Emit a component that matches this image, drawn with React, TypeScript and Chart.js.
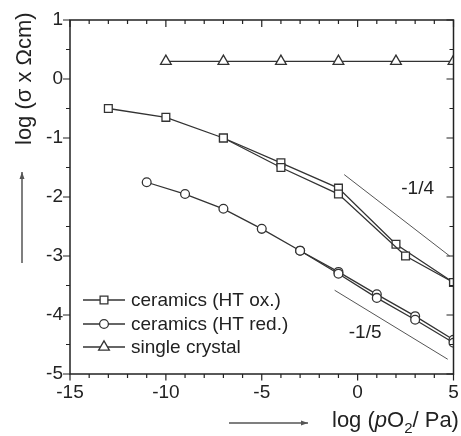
import React, { useEffect, useRef } from 'react';
import { Chart, registerables } from 'chart.js';
Chart.register(...registerables);

// ---- data ----
const oxA_x = [-13, -10, -7, -4, -1, 2, 5];
const oxA_y = [-0.5, -0.65, -1.0, -1.42, -1.85, -2.8, -3.45];
const oxB_x = [-7, -4, -1, 2.5, 5];
const oxB_y = [-1.0, -1.5, -1.95, -3.0, -3.45];
const redA_x = [-11, -9, -7, -5, -3, -1, 1, 3, 5];
const redA_y = [-1.75, -1.95, -2.2, -2.54, -2.91, -3.27, -3.65, -4.02, -4.42];
const redB_x = [-3, -1, 1, 3, 5];
const redB_y = [-2.91, -3.3, -3.71, -4.08, -4.47];
const crystal_x = [-10, -7, -4, -1, 2, 5];
const crystal_y = [0.3, 0.3, 0.3, 0.3, 0.3, 0.3];
const slope14_x = [-0.7, 4.8];
const slope14_y = [-1.62, -3.0];
const slope15_x = [-1.2, 4.7];
const slope15_y = [-3.58, -4.75];
const slopeLabels = ['-1/4', '-1/5'];
const slopeLabel_x = [3.13, 0.39];
const slopeLabel_y = [-1.86, -4.3];
const legendLabels = ['ceramics (HT ox.)', 'ceramics (HT red.)', 'single crystal'];
const legendStyles = ['rect', 'circle', 'triangle'];

const X_MIN = -15, X_MAX = 5, X_MAJOR = 5, X_MINOR = 1;
const Y_MIN = -5, Y_MAX = 1, Y_MAJOR = 1, Y_MINOR = 0.5;

const FONT = 'Arial, "Liberation Sans", sans-serif';
const INK = '#333';

const pts = (xs: number[], ys: number[]) => xs.map((x, i) => ({ x, y: ys[i] }));

function marker(ctx: CanvasRenderingContext2D, style: string, x: number, y: number) {
  ctx.beginPath();
  if (style === 'rect') {
    const s = 5.5 * Math.SQRT1_2;
    ctx.rect(x - s, y - s, 2 * s, 2 * s);
  } else if (style === 'circle') {
    ctx.arc(x, y, 4.4, 0, Math.PI * 2);
  } else {
    const r = 6.2;
    let a = 0;
    ctx.moveTo(x + Math.sin(a) * r, y - Math.cos(a) * r);
    a += (2 * Math.PI) / 3;
    ctx.lineTo(x + Math.sin(a) * r, y - Math.cos(a) * r);
    a += (2 * Math.PI) / 3;
    ctx.lineTo(x + Math.sin(a) * r, y - Math.cos(a) * r);
    ctx.closePath();
  }
  ctx.fillStyle = '#fff';
  ctx.fill();
  ctx.stroke();
}

function arrow(ctx: CanvasRenderingContext2D, x1: number, y1: number, x2: number, y2: number) {
  ctx.beginPath();
  ctx.moveTo(x1, y1);
  ctx.lineTo(x2, y2);
  ctx.stroke();
  const ang = Math.atan2(y2 - y1, x2 - x1);
  const L = 7, W = 2.5;
  ctx.beginPath();
  ctx.moveTo(x2, y2);
  ctx.lineTo(x2 - L * Math.cos(ang) + W * Math.sin(ang), y2 - L * Math.sin(ang) - W * Math.cos(ang));
  ctx.lineTo(x2 - L * Math.cos(ang) - W * Math.sin(ang), y2 - L * Math.sin(ang) + W * Math.cos(ang));
  ctx.closePath();
  ctx.fill();
}

const decorPlugin = {
  id: 'decor',
  afterDraw(chart: any) {
    const { ctx, chartArea: a, scales } = chart;
    const x = scales.x, y = scales.y;
    ctx.save();
    // frame
    ctx.strokeStyle = '#222';
    ctx.lineWidth = 1.5;
    ctx.strokeRect(a.left, a.top, a.right - a.left, a.bottom - a.top);
    // ticks
    ctx.lineWidth = 1.2;
    ctx.beginPath();
    for (let v = X_MIN; v <= X_MAX + 1e-9; v += X_MINOR) {
      const major = Math.abs(v % X_MAJOR) < 1e-9;
      const px = x.getPixelForValue(v);
      const lb = major ? 6.5 : 4;
      const lt = major ? 7 : 4;
      ctx.moveTo(px, a.bottom);
      ctx.lineTo(px, a.bottom + lb);
      ctx.moveTo(px, a.top);
      ctx.lineTo(px, a.top + lt);
    }
    for (let v = Y_MIN; v <= Y_MAX + 1e-9; v += Y_MINOR) {
      const major = Math.abs(v % Y_MAJOR) < 1e-9;
      const py = y.getPixelForValue(v);
      const l = major ? 7 : 4;
      ctx.moveTo(a.left, py);
      ctx.lineTo(a.left - l, py);
      ctx.moveTo(a.right, py);
      ctx.lineTo(a.right - l, py);
    }
    ctx.stroke();

    // slope labels
    ctx.fillStyle = '#222';
    ctx.font = `19px ${FONT}`;
    ctx.textAlign = 'center';
    ctx.textBaseline = 'middle';
    slopeLabels.forEach((t, i) => {
      ctx.fillText(t, x.getPixelForValue(slopeLabel_x[i]), y.getPixelForValue(slopeLabel_y[i]));
    });

    // legend
    const lx0 = a.left + 13, lx1 = a.left + 55, mx = a.left + 34, tx = a.left + 61;
    const rowY = [300, 324, 347];
    ctx.textAlign = 'left';
    legendLabels.forEach((t, i) => {
      ctx.strokeStyle = INK;
      ctx.lineWidth = 1.3;
      ctx.beginPath();
      ctx.moveTo(lx0, rowY[i]);
      ctx.lineTo(lx1, rowY[i]);
      ctx.stroke();
      marker(ctx, legendStyles[i], mx, rowY[i]);
      ctx.fillStyle = '#222';
      ctx.fillText(t, tx, rowY[i] + 1);
    });

    // y title
    ctx.save();
    ctx.translate(31, 145);
    ctx.rotate(-Math.PI / 2);
    ctx.textAlign = 'left';
    ctx.textBaseline = 'alphabetic';
    ctx.font = `22px ${FONT}`;
    ctx.fillStyle = '#222';
    ctx.fillText('log (σ x Ωcm)', 0, 0);
    ctx.restore();

    // x title with italic p and subscript 2
    ctx.textAlign = 'left';
    ctx.textBaseline = 'alphabetic';
    ctx.fillStyle = '#222';
    let cx = 332;
    const by = 427;
    const seg = (t: string, font: string, dy = 0) => {
      ctx.font = font;
      ctx.fillText(t, cx, by + dy);
      cx += ctx.measureText(t).width;
    };
    seg('log (', `22px ${FONT}`);
    seg('p', `italic 22px ${FONT}`);
    seg('O', `22px ${FONT}`);
    seg('2', `15px ${FONT}`, 6);
    seg('/ Pa)', `22px ${FONT}`);

    // arrows
    ctx.strokeStyle = '#555';
    ctx.fillStyle = '#555';
    ctx.lineWidth = 1.5;
    arrow(ctx, 22, 263, 22, 172);
    arrow(ctx, 229, 423, 308, 423);
    ctx.restore();
  },
};

export default function App() {
  const ref = useRef<HTMLCanvasElement>(null);
  useEffect(() => {
    document.body.style.margin = '0';
    const base = {
      showLine: true,
      borderColor: INK,
      borderWidth: 1.3,
      pointBorderColor: INK,
      pointBackgroundColor: '#fff',
      pointBorderWidth: 1.3,
      clip: 0,
    };
    const chart = new Chart(ref.current as HTMLCanvasElement, {
      type: 'scatter',
      data: {
        datasets: [
          { ...base, label: 'slope -1/4', data: pts(slope14_x, slope14_y), borderColor: '#555', borderWidth: 1, pointRadius: 0 },
          { ...base, label: 'slope -1/5', data: pts(slope15_x, slope15_y), borderColor: '#555', borderWidth: 1, pointRadius: 0 },
          { ...base, label: legendLabels[0] + ' b', data: pts(oxB_x, oxB_y), pointStyle: 'rect', pointRadius: 5.5 },
          { ...base, label: legendLabels[0], data: pts(oxA_x, oxA_y), pointStyle: 'rect', pointRadius: 5.5 },
          { ...base, label: legendLabels[1] + ' b', data: pts(redB_x, redB_y), pointStyle: 'circle', pointRadius: 4.4 },
          { ...base, label: legendLabels[1], data: pts(redA_x, redA_y), pointStyle: 'circle', pointRadius: 4.4 },
          { ...base, label: legendLabels[2], data: pts(crystal_x, crystal_y), pointStyle: 'triangle', pointRadius: 6.2 },
        ],
      },
      options: {
        animation: false,
        responsive: false,
        layout: { padding: { top: 20, right: 5, left: 0, bottom: 0 } },
        plugins: { legend: { display: false }, tooltip: { enabled: false } },
        scales: {
          x: {
            type: 'linear',
            min: X_MIN,
            max: X_MAX,
            grid: { display: false, drawTicks: false },
            border: { display: false },
            ticks: { stepSize: X_MAJOR, padding: 7, color: '#222', font: { size: 19, family: FONT } },
            afterFit: (s: any) => { s.height = 62; s.paddingLeft = 0; s.paddingRight = 0; },
          },
          y: {
            type: 'linear',
            min: Y_MIN,
            max: Y_MAX,
            grid: { display: false, drawTicks: false },
            border: { display: false },
            ticks: { stepSize: Y_MAJOR, padding: 7, color: '#222', font: { size: 19, family: FONT } },
            afterFit: (s: any) => { s.width = 70; },
          },
        },
      },
      plugins: [decorPlugin],
    } as any);
    return () => chart.destroy();
  }, []);
  return (
    <div style={{ position: 'absolute', left: 0, top: 0, width: 461, height: 436, background: '#fff' }}>
      <canvas ref={ref} width={461} height={436} style={{ display: 'block' }} />
    </div>
  );
}
